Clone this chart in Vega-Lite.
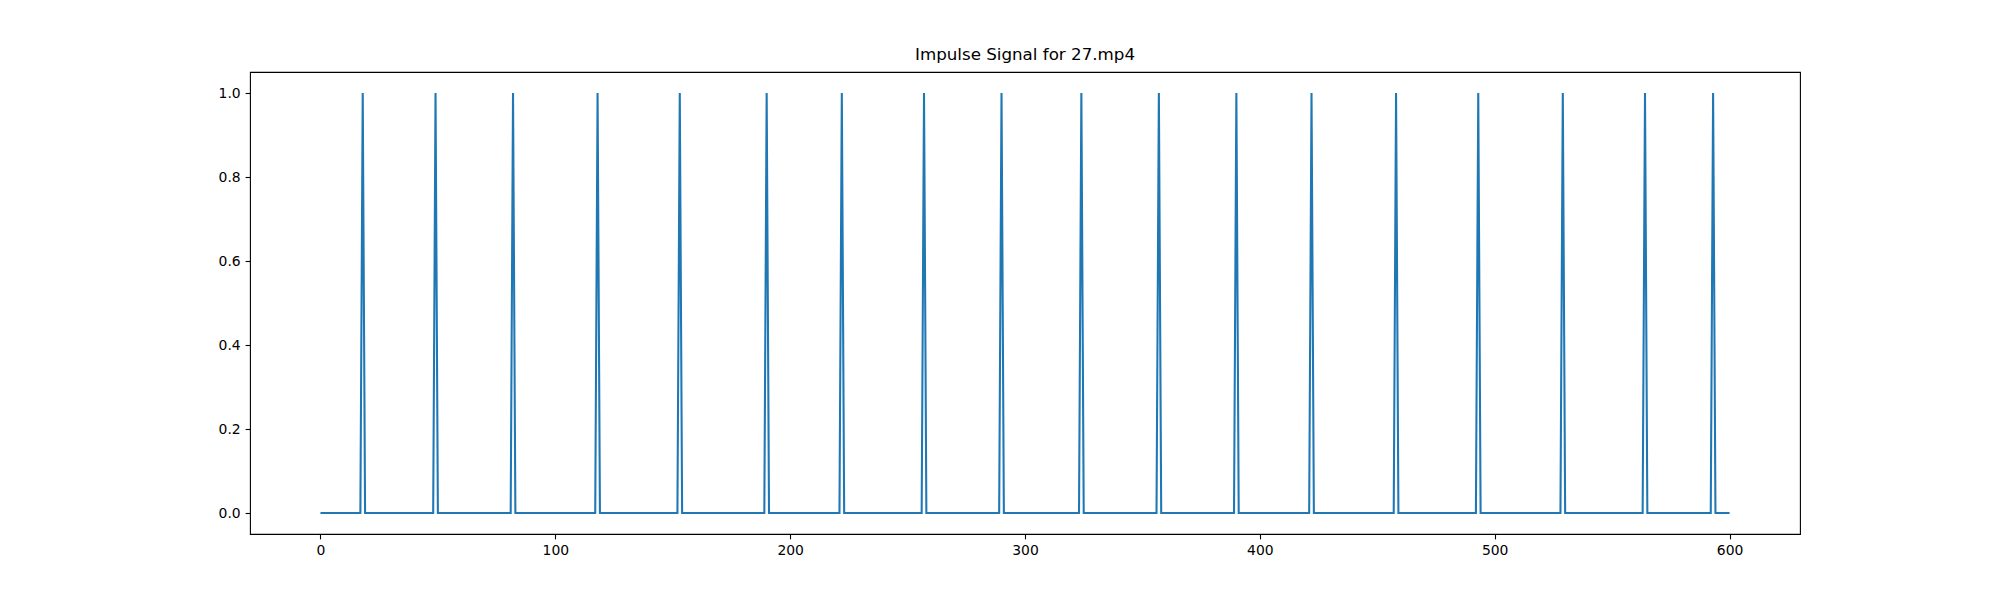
{
  "$schema": "https://vega.github.io/schema/vega-lite/v6.json",
  "width": 1550,
  "height": 462,
  "autosize": {"type": "none"},
  "padding": {"left": 250, "top": 72, "right": 200, "bottom": 66},
  "background": "white",
  "title": {
    "text": "Impulse Signal for 27.mp4",
    "font": "DejaVu Sans",
    "fontSize": 16.7,
    "fontWeight": "normal",
    "color": "#000",
    "offset": 8,
    "anchor": "middle"
  },
  "config": {
    "view": {"stroke": "#000", "strokeWidth": 1.1},
    "axis": {
      "domain": false,
      "grid": false,
      "labelFont": "DejaVu Sans",
      "labelFontSize": 13.9,
      "labelColor": "#000",
      "tickColor": "#000",
      "tickWidth": 1.1,
      "tickSize": 4.9,
      "labelPadding": 4.9,
      "title": null
    }
  },
  "data": {
    "values": [
      {"frame": 0, "impulse": 0},
      {"frame": 17, "impulse": 0}, {"frame": 18, "impulse": 1}, {"frame": 19, "impulse": 0},
      {"frame": 48, "impulse": 0}, {"frame": 49, "impulse": 1}, {"frame": 50, "impulse": 0},
      {"frame": 81, "impulse": 0}, {"frame": 82, "impulse": 1}, {"frame": 83, "impulse": 0},
      {"frame": 117, "impulse": 0}, {"frame": 118, "impulse": 1}, {"frame": 119, "impulse": 0},
      {"frame": 152, "impulse": 0}, {"frame": 153, "impulse": 1}, {"frame": 154, "impulse": 0},
      {"frame": 189, "impulse": 0}, {"frame": 190, "impulse": 1}, {"frame": 191, "impulse": 0},
      {"frame": 221, "impulse": 0}, {"frame": 222, "impulse": 1}, {"frame": 223, "impulse": 0},
      {"frame": 256, "impulse": 0}, {"frame": 257, "impulse": 1}, {"frame": 258, "impulse": 0},
      {"frame": 289, "impulse": 0}, {"frame": 290, "impulse": 1}, {"frame": 291, "impulse": 0},
      {"frame": 323, "impulse": 0}, {"frame": 324, "impulse": 1}, {"frame": 325, "impulse": 0},
      {"frame": 356, "impulse": 0}, {"frame": 357, "impulse": 1}, {"frame": 358, "impulse": 0},
      {"frame": 389, "impulse": 0}, {"frame": 390, "impulse": 1}, {"frame": 391, "impulse": 0},
      {"frame": 421, "impulse": 0}, {"frame": 422, "impulse": 1}, {"frame": 423, "impulse": 0},
      {"frame": 457, "impulse": 0}, {"frame": 458, "impulse": 1}, {"frame": 459, "impulse": 0},
      {"frame": 492, "impulse": 0}, {"frame": 493, "impulse": 1}, {"frame": 494, "impulse": 0},
      {"frame": 528, "impulse": 0}, {"frame": 529, "impulse": 1}, {"frame": 530, "impulse": 0},
      {"frame": 563, "impulse": 0}, {"frame": 564, "impulse": 1}, {"frame": 565, "impulse": 0},
      {"frame": 592, "impulse": 0}, {"frame": 593, "impulse": 1}, {"frame": 594, "impulse": 0},
      {"frame": 600, "impulse": 0}
    ]
  },
  "mark": {"type": "line", "color": "#1f77b4", "strokeWidth": 2.08, "strokeJoin": "miter", "clip": true},
  "encoding": {
    "x": {
      "field": "frame",
      "type": "quantitative",
      "scale": {"domain": [-30, 630], "nice": false, "zero": false},
      "axis": {"values": [0, 100, 200, 300, 400, 500, 600], "format": "d"}
    },
    "y": {
      "field": "impulse",
      "type": "quantitative",
      "scale": {"domain": [-0.05, 1.05], "nice": false, "zero": false},
      "axis": {"values": [0, 0.2, 0.4, 0.6, 0.8, 1.0], "format": ".1f"}
    }
  }
}
